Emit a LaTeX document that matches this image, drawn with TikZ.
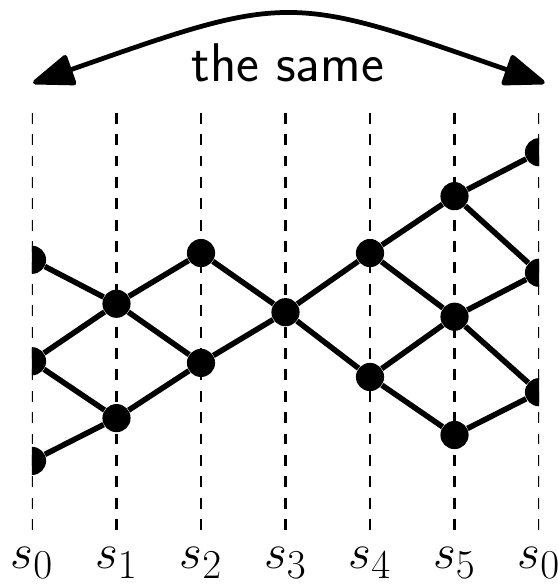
\documentclass[tikz,border=0pt]{standalone}
\usetikzlibrary{arrows.meta}
\DeclareMathSizes{26}{26}{22}{18}
\begin{document}
\begin{tikzpicture}[
  dot/.style={circle, fill=black, inner sep=0pt, minimum size=0.5cm},
  edge/.style={line width=2.8pt},
  guide/.style={line width=1.5pt, dash pattern=on 5.5pt off 5.3pt},
  lbl/.style={anchor=base, font=\fontsize{26}{30}\selectfont},
  >={Triangle[round, length=23pt, width=16.5pt]}]
  \useasboundingbox (-0.568,0) rectangle (9.32,10.402);

  % graph, cut at the two s_0 lines
  \begin{scope}
    \clip (0,0) rectangle (9,10);
    \foreach \k in {0,...,6}
      \draw[guide] (1.5*\k,8.40) -- (1.5*\k,0.96);
    \foreach \n/\x/\y in {a1/0/5.79, a2/0/3.99, a3/0/2.22,
        b1/1.5/5.01, b2/1.5/2.98, c1/3/5.91, c2/3/3.96, d1/4.5/4.86,
        e1/6/5.91, e2/6/3.71, f1/7.5/6.92, f2/7.5/4.78, f3/7.5/2.68,
        g1/9/7.70, g2/9/5.56, g3/9/3.44}
      \node[dot] (\n) at (\x,\y) {};
    \foreach \u/\v in {a1/b1, a2/b1, a2/b2, a3/b2, b1/c1, b1/c2, b2/c2,
        c1/d1, c2/d1, d1/e1, d1/e2, e1/f1, e1/f2, e2/f2, e2/f3,
        f1/g1, f1/g2, f2/g2, f2/g3, f3/g3}
      \draw[edge] (\u) -- (\v);
  \end{scope}

  % labels
  \foreach \k in {0,...,5}
    \node[lbl] (s\k) at (1.5*\k,0.31) {$s_\k$};
  \node[lbl] (s6) at (9,0.31) {$s_0$};

  % arrow on top
  \coordinate (left) at (0.02,8.93);
  \coordinate (right) at (9.1,8.93);
  \draw[line width=2.4pt, <->] (left) .. controls (4.55,10.52) .. (right);
  \node[anchor=base, font=\sffamily\fontsize{27.5}{32}\selectfont] (same) at (4.54,8.95) {the same};
\end{tikzpicture}
\end{document}
